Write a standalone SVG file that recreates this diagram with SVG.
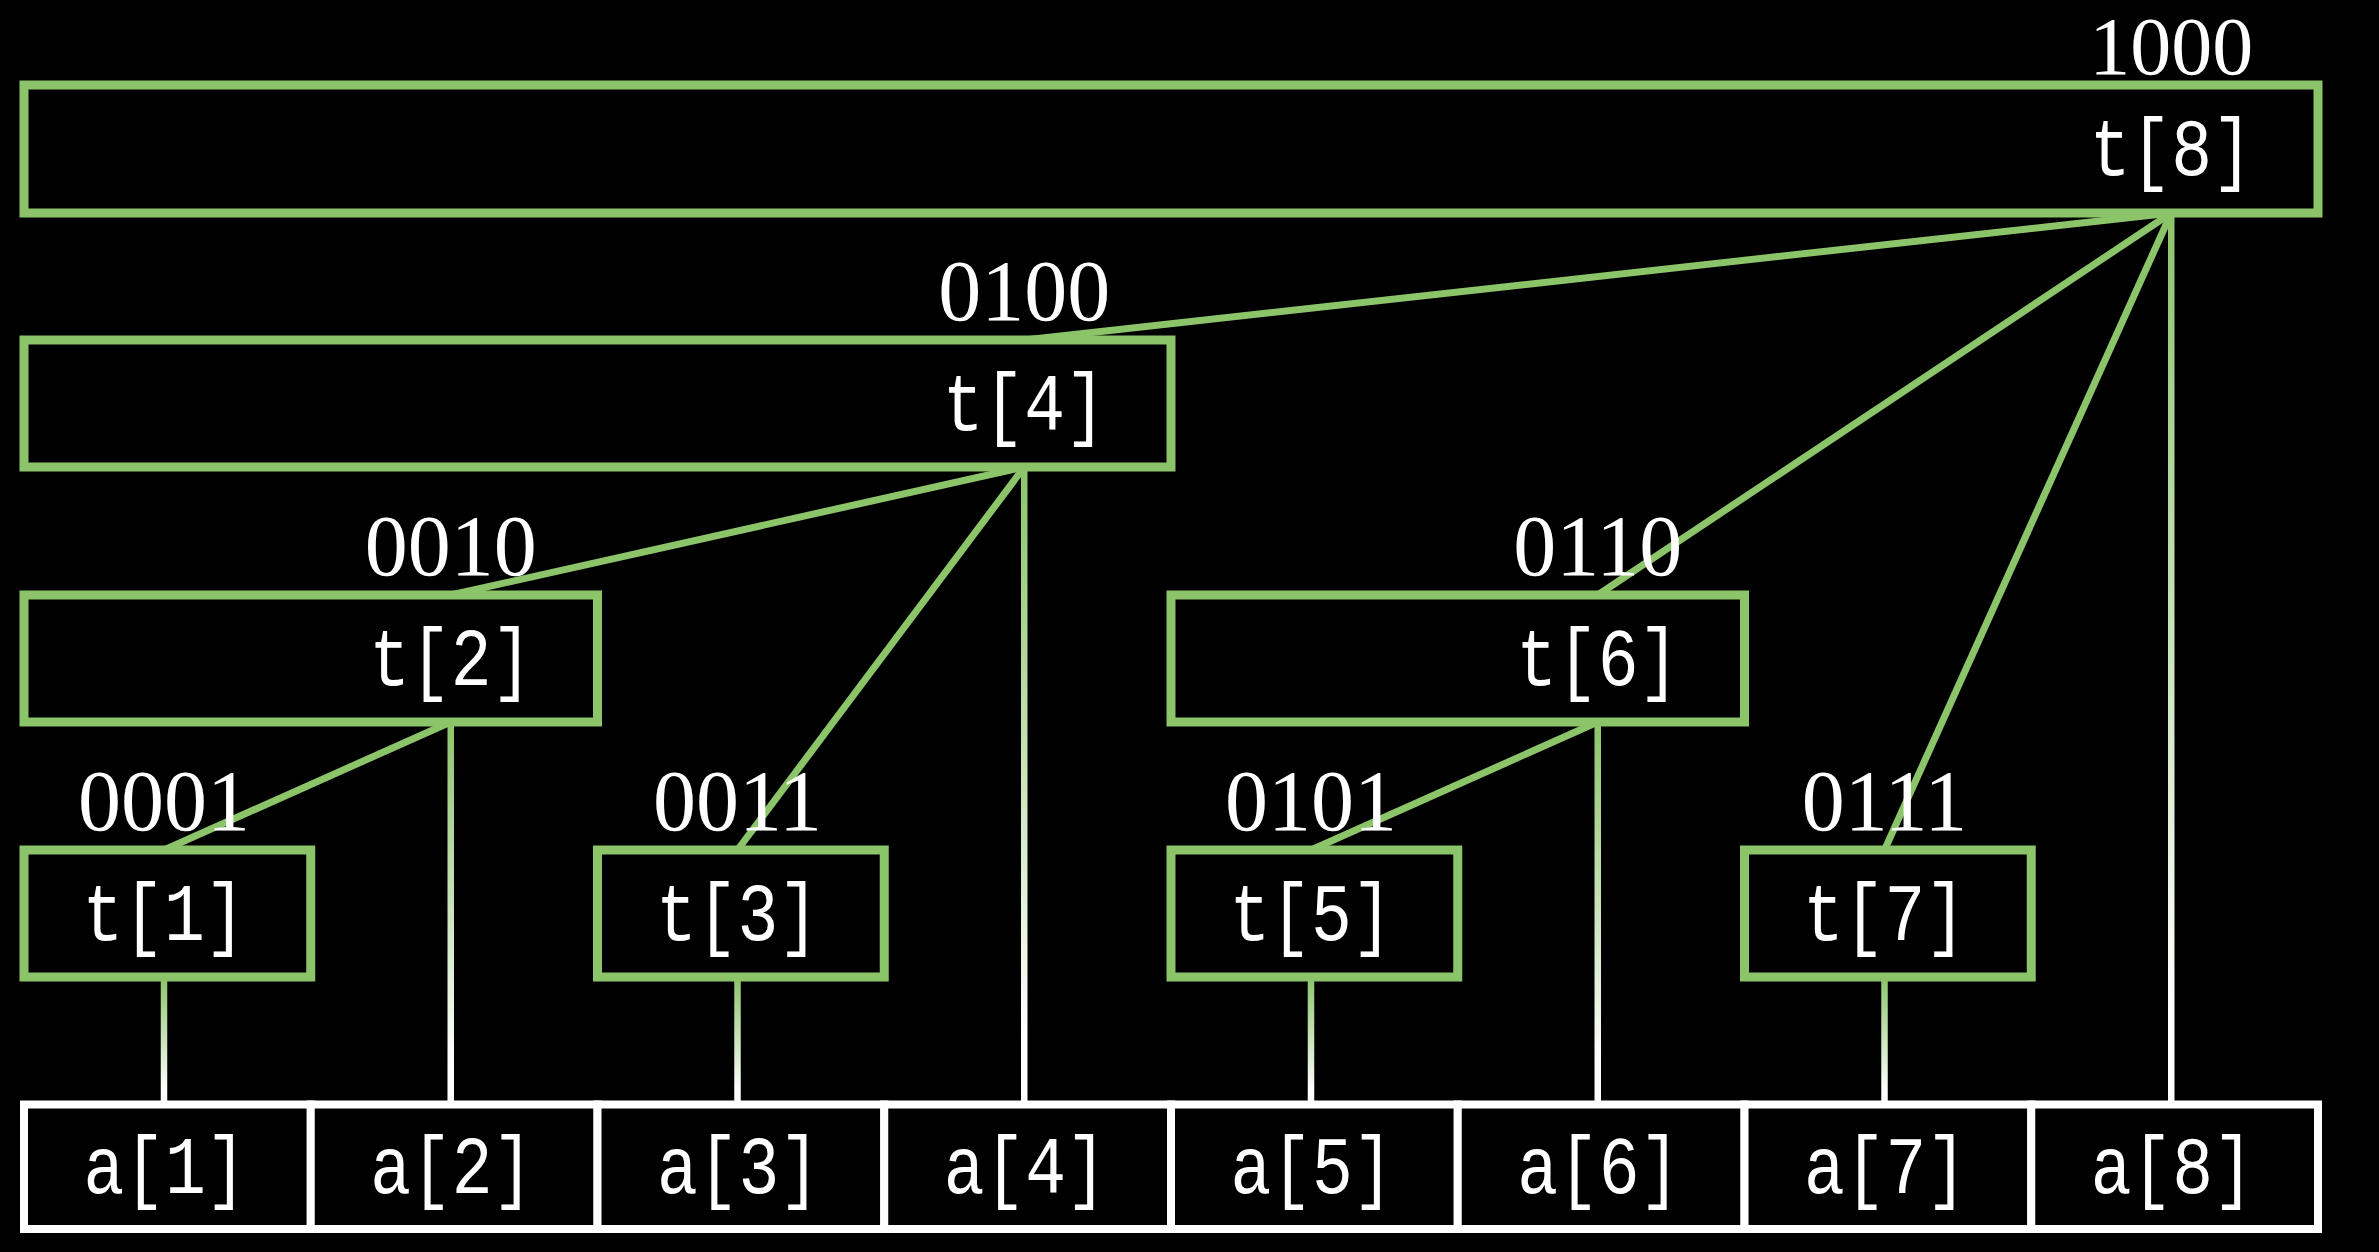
<svg xmlns="http://www.w3.org/2000/svg" width="2379" height="1252" viewBox="0 0 2379 1252">
<style>
.box{fill:#000;stroke:#8cc46a;stroke-width:9}
.cell{fill:#000;stroke:#fff;stroke-width:8}
.bin{font-family:"Liberation Serif",serif;font-size:86px;fill:#fff;text-anchor:middle}
.lab{font-family:"Liberation Mono",monospace;font-size:68px;fill:#fff;text-anchor:middle}
.edge{stroke:#8cc46a;stroke-width:7;fill:none}
.vedge{fill:url(#vg)}
</style>
<defs>
<linearGradient id="vg" x1="0" y1="0" x2="0" y2="1">
<stop offset="0" stop-color="#8cc46a"/>
<stop offset="0.9" stop-color="#ffffff"/>
</linearGradient>
</defs>
<rect x="0" y="0" width="2379" height="1252" fill="#000"/>
<g id="connectors">
<line class="edge" x1="2171.25" y1="213" x2="1024.25" y2="340"/>
<line class="edge" x1="2171.25" y1="213" x2="1597.75" y2="595"/>
<line class="edge" x1="2171.25" y1="213" x2="1884.5" y2="850"/>
<line class="edge" x1="1024.25" y1="467" x2="450.75" y2="595"/>
<line class="edge" x1="1024.25" y1="467" x2="737.5" y2="850"/>
<line class="edge" x1="450.75" y1="722" x2="164" y2="850"/>
<line class="edge" x1="1597.75" y1="722" x2="1311" y2="850"/>
<rect class="vedge" x="2168" y="213" width="6.5" height="891.5"/>
<rect class="vedge" x="1021" y="467" width="6.5" height="637.5"/>
<rect class="vedge" x="447.5" y="722" width="6.5" height="382.5"/>
<rect class="vedge" x="1594.5" y="722" width="6.5" height="382.5"/>
<rect class="vedge" x="160.75" y="977" width="6.5" height="127.5"/>
<rect class="vedge" x="734.25" y="977" width="6.5" height="127.5"/>
<rect class="vedge" x="1307.75" y="977" width="6.5" height="127.5"/>
<rect class="vedge" x="1881.25" y="977" width="6.5" height="127.5"/>
</g>
<g id="t8">
<rect class="box" x="24" y="85" width="2294" height="128"/>
<text class="lab" transform="translate(2171.25 175) scale(1 1.2)">t[8]</text>
<text class="bin" x="2171.25" y="74" style="font-size:82px">1000</text>
</g>
<g id="t4">
<rect class="box" x="24" y="340" width="1147" height="127"/>
<text class="lab" transform="translate(1024.25 430) scale(1 1.2)">t[4]</text>
<text class="bin" x="1024.25" y="320">0100</text>
</g>
<g id="t2">
<rect class="box" x="24" y="595" width="573.5" height="127"/>
<text class="lab" transform="translate(450.75 685) scale(1 1.2)">t[2]</text>
<text class="bin" x="450.75" y="575">0010</text>
</g>
<g id="t6">
<rect class="box" x="1171" y="595" width="573.5" height="127"/>
<text class="lab" transform="translate(1597.75 685) scale(1 1.2)">t[6]</text>
<text class="bin" x="1597.75" y="575">0110</text>
</g>
<g id="t1">
<rect class="box" x="24" y="850" width="286.75" height="127"/>
<text class="lab" transform="translate(164 940) scale(1 1.2)">t[1]</text>
<text class="bin" x="164" y="830">0001</text>
</g>
<g id="t3">
<rect class="box" x="597.5" y="850" width="286.75" height="127"/>
<text class="lab" transform="translate(737.5 940) scale(1 1.2)">t[3]</text>
<text class="bin" x="737.5" y="830">0011</text>
</g>
<g id="t5">
<rect class="box" x="1171" y="850" width="286.75" height="127"/>
<text class="lab" transform="translate(1311 940) scale(1 1.2)">t[5]</text>
<text class="bin" x="1311" y="830">0101</text>
</g>
<g id="t7">
<rect class="box" x="1744.5" y="850" width="286.75" height="127"/>
<text class="lab" transform="translate(1884.5 940) scale(1 1.2)">t[7]</text>
<text class="bin" x="1884.5" y="830">0111</text>
</g>
<g id="a1"><rect class="cell" x="24" y="1104.5" width="286.75" height="124.5"/><text class="lab" transform="translate(165 1193) scale(1 1.2)">a[1]</text></g>
<g id="a2"><rect class="cell" x="310.75" y="1104.5" width="286.75" height="124.5"/><text class="lab" transform="translate(451.75 1193) scale(1 1.2)">a[2]</text></g>
<g id="a3"><rect class="cell" x="597.5" y="1104.5" width="286.75" height="124.5"/><text class="lab" transform="translate(738.5 1193) scale(1 1.2)">a[3]</text></g>
<g id="a4"><rect class="cell" x="884.25" y="1104.5" width="286.75" height="124.5"/><text class="lab" transform="translate(1025.25 1193) scale(1 1.2)">a[4]</text></g>
<g id="a5"><rect class="cell" x="1171" y="1104.5" width="286.75" height="124.5"/><text class="lab" transform="translate(1312 1193) scale(1 1.2)">a[5]</text></g>
<g id="a6"><rect class="cell" x="1457.75" y="1104.5" width="286.75" height="124.5"/><text class="lab" transform="translate(1598.75 1193) scale(1 1.2)">a[6]</text></g>
<g id="a7"><rect class="cell" x="1744.5" y="1104.5" width="286.75" height="124.5"/><text class="lab" transform="translate(1885.5 1193) scale(1 1.2)">a[7]</text></g>
<g id="a8"><rect class="cell" x="2031.25" y="1104.5" width="286.75" height="124.5"/><text class="lab" transform="translate(2172.25 1193) scale(1 1.2)">a[8]</text></g>
</svg>
